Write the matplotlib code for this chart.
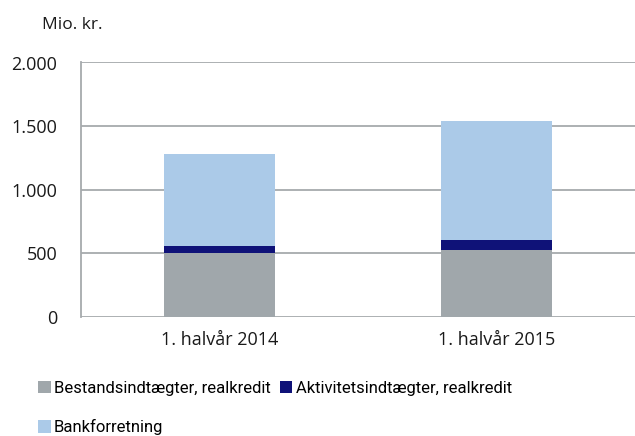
import matplotlib.pyplot as plt
import numpy as np
from matplotlib.ticker import FuncFormatter

periods = ['1. halvår 2014', '1. halvår 2015']
bestand = [506, 525]
aktivitet = [53, 84]
bank = [719, 934]

labels = ['Bestandsindtægter, realkredit', 'Aktivitetsindtægter, realkredit', 'Bankforretning']
colors = ['#a0a7ab', '#0f1278', '#abcae8']

plt.rcParams['font.family'] = ['Open Sans', 'DejaVu Sans']

fig = plt.figure(figsize=(6.35, 4.36), dpi=100)
ax = fig.add_axes([81 / 635, 1 - 317 / 436, 554 / 635, (317 - 62.5) / 436])

x = np.arange(len(periods))
w = 0.4
bottom = np.zeros(len(periods))
bars = []
for vals, lab, col in zip([bestand, aktivitet, bank], labels, colors):
    b = ax.bar(x, vals, w, bottom=bottom, color=col, label=lab, zorder=3)
    bars.append(b)
    bottom += np.array(vals)

ax.set_xlim(-0.5, 1.5)
ax.set_ylim(0, 2000)
ax.set_yticks([0, 500, 1000, 1500, 2000])
ax.yaxis.set_major_formatter(FuncFormatter(lambda v, p: f'{int(v):,}'.replace(',', '.')))
ax.set_xticks(x)
ax.set_xticklabels(periods)
ax.tick_params(length=0, labelsize=13, colors='#1a1a1a')
ax.tick_params(axis='y', pad=17)
ax.tick_params(axis='x', pad=10)
ax.grid(axis='y', color='#a6aaad', linewidth=1.3, zorder=0)
for s in ['top', 'right', 'bottom']:
    ax.spines[s].set_visible(False)
ax.spines['left'].set_color('#a6aaad')
ax.spines['left'].set_linewidth(1.3)

fig.text(42 / 635, 1 - 25 / 436, 'Mio. kr.', fontsize=12.5, va='center', ha='left', color='#1a1a1a')

handles = [bars[0], bars[2], bars[1]]
lab_order = [labels[0], labels[2], labels[1]]
fig.legend(handles, lab_order, ncol=2, loc='upper left', bbox_to_anchor=(23 / 635, 1 - 366 / 436),
           frameon=False, handlelength=0.75, handleheight=0.75, handletextpad=0.2,
           columnspacing=0.55, labelspacing=1.4,
           prop={'family': ['Roboto', 'DejaVu Sans'], 'size': 12})

fig.savefig('out.png', dpi=100)
